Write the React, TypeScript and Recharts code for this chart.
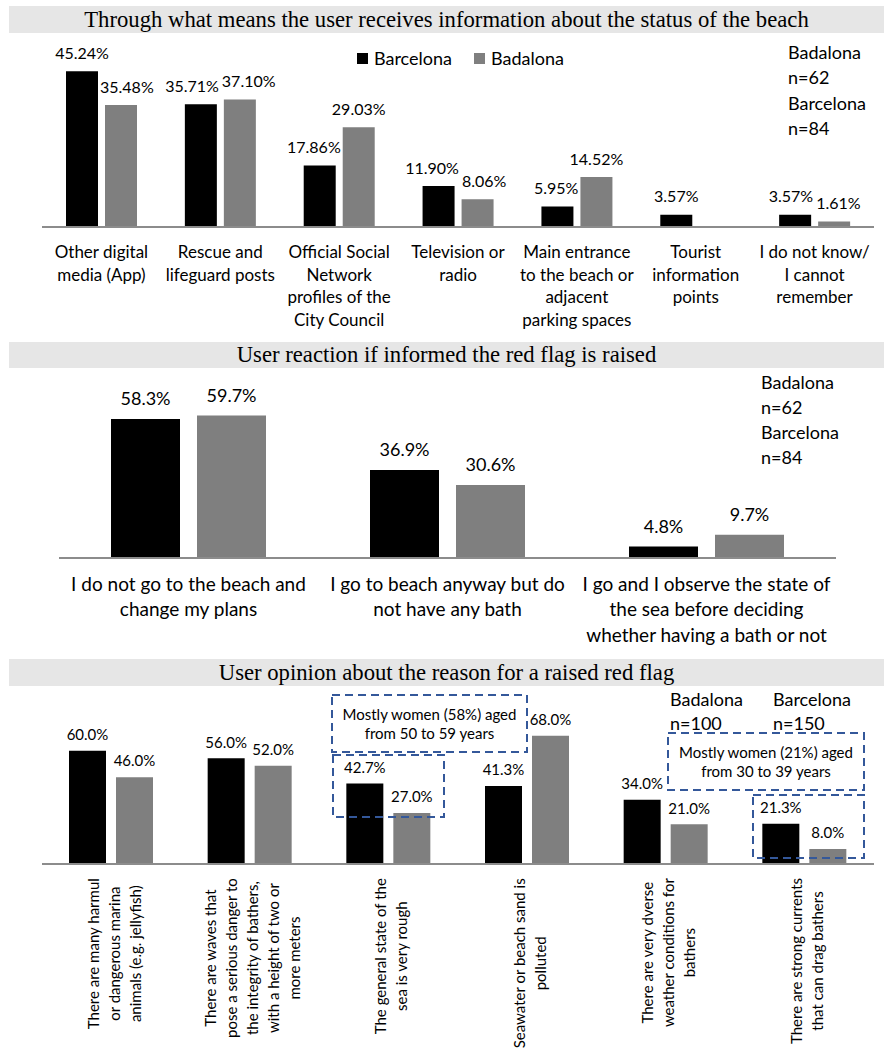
import React from 'react';
import { BarChart, Bar, XAxis, YAxis, LabelList, Legend } from 'recharts';

const SANS = 'Lato, "Open Sans", "DejaVu Sans", sans-serif';
const SERIF = '"Liberation Serif", "Times New Roman", serif';
const BLACK = '#000000';
const GRAY = '#7f7f7f';
const AXIS = '#8c8c8c';
const DASH = '#34589a';

const seriesNames = ['Barcelona', 'Badalona'];
const seriesKeys = ['barcelona', 'badalona'];

// Panel 1 – information channels
const infoTitle = 'Through what means the user receives information about the status of the beach';
const infoCategories = [
  'Other digital\nmedia (App)',
  'Rescue and\nlifeguard posts',
  'Official Social\nNetwork\nprofiles of the\nCity Council',
  'Television or\nradio',
  'Main entrance\nto the beach or\nadjacent\nparking spaces',
  'Tourist\ninformation\npoints',
  'I do not know/\nI cannot\nremember',
];
const infoBarcelona = [45.24, 35.71, 17.86, 11.9, 5.95, 3.57, 3.57];
const infoBadalona = [35.48, 37.1, 29.03, 8.06, 14.52, null, 1.61];
const infoSamples = ['Badalona', 'n=62', 'Barcelona', 'n=84'];

// Panel 2 – reaction to red flag
const reactionTitle = 'User reaction if informed the red flag is raised';
const reactionCategories = [
  'I do not go to the beach and\nchange my plans',
  'I go to beach anyway but do\nnot have any bath',
  'I go and I observe the state of\nthe sea before deciding\nwhether having a bath or not',
];
const reactionBarcelona = [58.3, 36.9, 4.8];
const reactionBadalona = [59.7, 30.6, 9.7];
const reactionSamples = ['Badalona', 'n=62', 'Barcelona', 'n=84'];

// Panel 3 – opinion on reason
const reasonTitle = 'User opinion about the reason for a raised red flag';
const reasonCategories = [
  'There are many harmul\nor dangerous marina\nanimals (e.g. jellyfish)',
  'There are waves that\npose a serious danger to\nthe integrity of bathers,\nwith a height of two or\nmore meters',
  'The general state of the\nsea is very rough',
  'Seawater or beach sand is\npolluted',
  'There are very dverse\nweather conditions for\nbathers',
  'There are strong currents\nthat can drag bathers',
];
const reasonBarcelona = [60.0, 56.0, 42.7, 41.3, 34.0, 21.3];
const reasonBadalona = [46.0, 52.0, 27.0, 68.0, 21.0, 8.0];
const reasonSamplesBadalona = ['Badalona', 'n=100'];
const reasonSamplesBarcelona = ['Barcelona', 'n=150'];
const noteA = ['Mostly women (58%) aged', 'from 50 to 59 years'];
const noteB = ['Mostly women (21%) aged', 'from 30 to 39 years'];

type Row = { category: string; barcelona: number | null; badalona: number | null };
const build = (cats: string[], a: (number | null)[], b: (number | null)[]): Row[] =>
  cats.map((c, i) => ({ category: c, barcelona: a[i], badalona: b[i] }));

const infoData = build(infoCategories, infoBarcelona, infoBadalona);
const reactionData = build(reactionCategories, reactionBarcelona, reactionBadalona);
const reasonData = build(reasonCategories, reasonBarcelona, reasonBadalona);

let measureCtx: CanvasRenderingContext2D | null = null;
function measure(text: string, font: string): number {
  try {
    if (!measureCtx) measureCtx = document.createElement('canvas').getContext('2d');
    if (measureCtx) {
      measureCtx.font = font;
      return measureCtx.measureText(text).width;
    }
  } catch (e) {}
  return text.length * 7.2;
}

function makeHTick(fontSize: number, lineHeight: number, firstDy: number) {
  return (props: any) => {
    const { x, y, payload } = props;
    const lines = String(payload.value).split('\n');
    return (
      <g>
        {lines.map((l, i) => (
          <text
            key={i}
            x={x}
            y={y + firstDy + i * lineHeight}
            dy="0.35em"
            textAnchor="middle"
            fontFamily={SANS}
            fontSize={fontSize}
            fill="#000"
          >
            {l}
          </text>
        ))}
      </g>
    );
  };
}

function RotTick(props: any) {
  const { x, y, payload } = props;
  const lines = String(payload.value).split('\n');
  const fs = 15;
  const maxLen = Math.max(...lines.map((l) => measure(l, `${fs}px Lato`)));
  const cy = y + 14 + maxLen / 2;
  const n = lines.length;
  return (
    <g>
      {lines.map((l, i) => {
        const lx = x + 3 + (i - (n - 1) / 2) * 21;
        return (
          <text
            key={i}
            transform={`translate(${lx},${cy}) rotate(-90)`}
            dy="0.35em"
            textAnchor="middle"
            fontFamily={SANS}
            fontSize={fs}
            fill="#000"
          >
            {l}
          </text>
        );
      })}
    </g>
  );
}

// Value label; nudges labels away from the neighbouring taller bar and from each other.
function makeLabel(data: Row[], seriesIdx: number, digits: number, offset: number, fontSize: number, pitch: number) {
  const otherKey = seriesKeys[1 - seriesIdx] as 'barcelona' | 'badalona';
  const font = `${fontSize}px Lato`;
  return (props: any) => {
    const { x, y, width, height, value, index } = props;
    if (value === null || value === undefined) return null;
    const v = Number(value);
    const fmt = (n: number) => `${n.toFixed(digits)}%`;
    const w = measure(fmt(v), font);
    const bx = Number(x);
    const bw = Number(width);
    const cx = bx + bw / 2;
    const ly = Number(y) - offset;
    let dx = 0;
    const row = data[index];
    const other = row ? row[otherKey] : null;
    if (other !== null && other !== undefined && v > 0) {
      const o = Number(other);
      const pxPerUnit = Math.abs(Number(height)) / v;
      const gap = pitch - bw;
      const otherTop = Number(y) + (v - o) * pxPerUnit;
      // avoid the neighbouring taller bar
      if (o > v && otherTop < ly + fontSize / 2) {
        if (seriesIdx === 1) {
          const otherRight = bx - gap;
          const left = cx - w / 2;
          if (left < otherRight + 2) dx = otherRight + 2 - left;
        } else {
          const otherLeft = bx + bw + gap;
          const right = cx + w / 2;
          if (right > otherLeft - 2) dx = otherLeft - 2 - right;
        }
      }
      // avoid the neighbouring label
      const dyPx = Math.abs(v - o) * pxPerUnit;
      if (dyPx < fontSize) {
        const need = (w + measure(fmt(o), font)) / 2 + 3;
        const shift = Math.max(0, (need - pitch) / 2);
        dx = seriesIdx === 0 ? -shift : shift;
      }
    }
    return (
      <text x={cx + dx} y={ly} dy="0.35em" textAnchor="middle" fontFamily={SANS} fontSize={fontSize} fill="#000">
        {fmt(v)}
      </text>
    );
  };
}

function LegendContent(props: any) {
  const payload = [...(props.payload || [])].sort(
    (a: any, b: any) => seriesNames.indexOf(a.value) - seriesNames.indexOf(b.value)
  );
  return (
    <div style={{ display: 'flex', alignItems: 'center', fontFamily: SANS, fontSize: 18, whiteSpace: 'nowrap' }}>
      {payload.map((p: any, i: number) => (
        <div key={i} style={{ display: 'flex', alignItems: 'center', marginRight: 22 }}>
          <div style={{ width: 11, height: 11, background: p.color, marginRight: 6 }} />
          <span>{p.value}</span>
        </div>
      ))}
    </div>
  );
}

function TitleBand({ top, height, text }: { top: number; height: number; text: string }) {
  return (
    <div
      style={{
        position: 'absolute',
        left: 9,
        top,
        width: 875,
        height,
        background: '#e6e6e6',
        fontFamily: SERIF,
        fontSize: 22.7,
        lineHeight: `${height}px`,
        textAlign: 'center',
        color: '#000',
        whiteSpace: 'nowrap',
      }}
    >
      {text}
    </div>
  );
}

function TextBlock({ left, top, lines, lineHeight, fontSize }: { left: number; top: number; lines: string[]; lineHeight: number; fontSize: number }) {
  return (
    <div style={{ position: 'absolute', left, top, fontFamily: SANS, fontSize, lineHeight: `${lineHeight}px`, color: '#000', whiteSpace: 'nowrap' }}>
      {lines.map((l, i) => (
        <div key={i}>{l}</div>
      ))}
    </div>
  );
}

function DashedNote({ x, y, w, h, lines }: { x: number; y: number; w: number; h: number; lines?: string[] }) {
  return (
    <g>
      <rect x={x} y={y} width={w} height={h} fill="none" stroke={DASH} strokeWidth={2} strokeDasharray="8 5" />
      {(lines || []).map((l, i) => (
        <text key={i} x={x + w / 2} y={y + 20 + i * 19} dy="0.35em" textAnchor="middle" fontFamily={SANS} fontSize={15} fill="#000">
          {l}
        </text>
      ))}
    </g>
  );
}

export default function App() {
  return (
    <div style={{ position: 'absolute', left: 0, top: 0, width: 884, height: 1053, background: '#fff', overflow: 'hidden' }}>
      <TitleBand top={6} height={27} text={infoTitle} />
      <div style={{ position: 'absolute', left: 0, top: 0 }}>
        <BarChart width={884} height={340} data={infoData} margin={{ top: 55, right: 10, left: 42, bottom: 0 }} barSize={32} barGap={7}>
          <YAxis hide domain={[0, 50]} />
          <XAxis
            dataKey="category"
            interval={0}
            height={113}
            tickLine={false}
            tickSize={0}
            tickMargin={0}
            axisLine={{ stroke: AXIS, strokeWidth: 2 }}
            tick={makeHTick(17, 22.7, 25)}
          />
          <Legend
            verticalAlign="middle"
            align="center"
            layout="horizontal"
            itemSorter={null as any}
            wrapperStyle={{ top: 47, left: 357, width: 'auto' }}
            content={<LegendContent />}
          />
          <Bar dataKey="barcelona" name={seriesNames[0]} fill={BLACK} isAnimationActive={false}>
            <LabelList dataKey="barcelona" content={makeLabel(infoData, 0, 2, 18, 16, 39)} />
          </Bar>
          <Bar dataKey="badalona" name={seriesNames[1]} fill={GRAY} isAnimationActive={false}>
            <LabelList dataKey="badalona" content={makeLabel(infoData, 1, 2, 18, 16, 39)} />
          </Bar>
        </BarChart>
      </div>
      <TextBlock left={788} top={40} lines={infoSamples} lineHeight={25.3} fontSize={18} />

      <TitleBand top={342} height={26} text={reactionTitle} />
      <div style={{ position: 'absolute', left: 0, top: 330 }}>
        <BarChart width={884} height={320} data={reactionData} margin={{ top: 61, right: 48, left: 59, bottom: 0 }} barSize={69} barGap={17}>
          <YAxis hide domain={[0, 70]} />
          <XAxis
            dataKey="category"
            interval={0}
            height={92}
            tickLine={false}
            tickSize={0}
            tickMargin={0}
            axisLine={{ stroke: AXIS, strokeWidth: 2 }}
            tick={makeHTick(19, 25.5, 26)}
          />
          <Bar dataKey="barcelona" name={seriesNames[0]} fill={BLACK} isAnimationActive={false}>
            <LabelList dataKey="barcelona" content={makeLabel(reactionData, 0, 1, 20, 18, 86)} />
          </Bar>
          <Bar dataKey="badalona" name={seriesNames[1]} fill={GRAY} isAnimationActive={false}>
            <LabelList dataKey="badalona" content={makeLabel(reactionData, 1, 1, 20, 18, 86)} />
          </Bar>
        </BarChart>
      </div>
      <TextBlock left={761} top={370} lines={reactionSamples} lineHeight={25} fontSize={18} />

      <TitleBand top={659} height={27} text={reasonTitle} />
      <div style={{ position: 'absolute', left: 0, top: 650 }}>
        <BarChart width={884} height={403} data={reasonData} margin={{ top: 63, right: 10, left: 42, bottom: 0 }} barSize={37} barGap={10}>
          <YAxis hide domain={[0, 80]} />
          <XAxis
            dataKey="category"
            interval={0}
            height={189}
            tickLine={false}
            tickSize={0}
            tickMargin={0}
            axisLine={{ stroke: AXIS, strokeWidth: 2 }}
            tick={<RotTick />}
          />
          <Bar dataKey="barcelona" name={seriesNames[0]} fill={BLACK} isAnimationActive={false}>
            <LabelList dataKey="barcelona" content={makeLabel(reasonData, 0, 1, 16, 15, 47)} />
          </Bar>
          <Bar dataKey="badalona" name={seriesNames[1]} fill={GRAY} isAnimationActive={false}>
            <LabelList dataKey="badalona" content={makeLabel(reasonData, 1, 1, 16, 15, 47)} />
          </Bar>
        </BarChart>
      </div>
      <TextBlock left={670} top={687} lines={reasonSamplesBadalona} lineHeight={24} fontSize={18} />
      <TextBlock left={773} top={687} lines={reasonSamplesBarcelona} lineHeight={24} fontSize={18} />

      <svg width={884} height={1053} style={{ position: 'absolute', left: 0, top: 0, pointerEvents: 'none' }}>
        <DashedNote x={332} y={695} w={195} h={57} lines={noteA} />
        <DashedNote x={333} y={755} w={111} h={62} />
        <DashedNote x={668} y={733} w={196} h={57} lines={noteB} />
        <DashedNote x={753} y={795} w={111} h={63} />
      </svg>
    </div>
  );
}
